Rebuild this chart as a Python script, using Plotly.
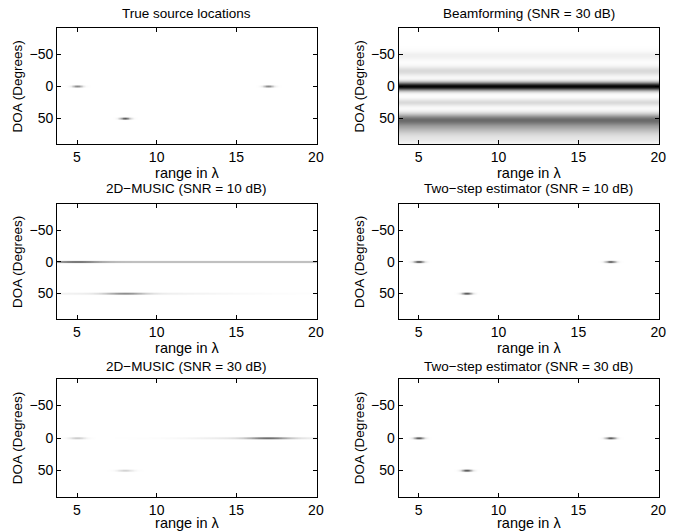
import numpy as np
import plotly.graph_objects as go

# ---------------- data ----------------
RANGE_GRID = np.round(np.arange(3.8, 20.0001, 0.1), 2)     # range in lambda (cell centres)
DOA_GRID = np.arange(-90.0, 90.0001, 0.5)                  # DOA in degrees

TITLES = ["True source locations", "Beamforming (SNR = 30 dB)",
          "2D\u2212MUSIC (SNR = 10 dB)", "Two\u2212step estimator (SNR = 10 dB)",
          "2D\u2212MUSIC (SNR = 30 dB)", "Two\u2212step estimator (SNR = 30 dB)"]
X_TICKS = [5, 10, 15, 20]
Y_TICKS = [-50, 0, 50]

# true sources
SOURCE_RANGE = [5, 8, 17]
SOURCE_DOA = [0, 50, 0]

# peaks: level, range width, doa width
TRUE_PEAKS_A = [1.0, 1.0, 1.0]
TRUE_PEAKS_SR = [0.22, 0.22, 0.22]
TRUE_PEAKS_SD = [0.8, 0.8, 0.8]

# beamforming bands (range independent)
BF_DOA = [-48, -24, 0, 25, 52, 66, 82]
BF_LEVEL = [0.06, 0.15, 1.0, 0.15, 0.55, 0.25, 0.08]
BF_WIDTH = [5, 5, 4.5, 4, 6.5, 7, 6]

MU10_R = [5, 5, 8, 8]
MU10_D = [0, 0, 50, 50]
MU10_A = [0.5, 0.45, 0.65, 0.12]
MU10_SR = [1.0, 500, 0.9, 5]
MU10_SD = [0.7, 0.7, 0.7, 0.7]

MU30_R = [5, 8, 17, 16.5]
MU30_D = [0, 50, 0, 0]
MU30_A = [0.35, 0.3, 0.8, 0.2]
MU30_SR = [0.35, 0.35, 0.9, 3.0]
MU30_SD = [0.7, 0.7, 0.7, 0.7]

TS10_A = [1.0, 1.0, 0.95]
TS30_A = [1.0, 1.0, 1.0]


def peaks_map(rc, dc, amp, sr, sd):
    R, D = np.meshgrid(RANGE_GRID, DOA_GRID)
    z = np.zeros_like(R)
    for r0, d0, a, s1, s2 in zip(rc, dc, amp, sr, sd):
        z += a * np.exp(-0.5 * ((R - r0) / s1) ** 2 - 0.5 * ((D - d0) / s2) ** 2)
    return np.clip(z, 0, 1)


def bands_map(dc, amp, sd):
    R, D = np.meshgrid(RANGE_GRID, DOA_GRID)
    z = np.zeros_like(R)
    for d0, a, s in zip(dc, amp, sd):
        z += a * np.exp(-0.5 * ((D - d0) / s) ** 2)
    return np.clip(z, 0, 1)


maps = [
    peaks_map(SOURCE_RANGE, SOURCE_DOA, TRUE_PEAKS_A, TRUE_PEAKS_SR, TRUE_PEAKS_SD),
    bands_map(BF_DOA, BF_LEVEL, BF_WIDTH),
    peaks_map(MU10_R, MU10_D, MU10_A, MU10_SR, MU10_SD),
    peaks_map(SOURCE_RANGE, SOURCE_DOA, TS10_A, TRUE_PEAKS_SR, TRUE_PEAKS_SD),
    peaks_map(MU30_R, MU30_D, MU30_A, MU30_SR, MU30_SD),
    peaks_map(SOURCE_RANGE, SOURCE_DOA, TS30_A, TRUE_PEAKS_SR, TRUE_PEAKS_SD),
]

# ---------------- layout ----------------
W, H = 678, 531
X_DOM = [(57.7 / W, 320.0 / W), (402.7 / W, 666.0 / W)]
ROW_PX = [(28.3, 144.3), (204.3, 319.3), (379.3, 496.7)]
TITLE_Y_PX = [13, 189, 366]
FONT = "Liberation Sans, Arial, Helvetica, sans-serif"
TICK_SIZE = 14
XLABEL_SIZE = 14.5
YLABEL_SIZE = 13.5
TITLE_SIZE = 13.5

fig = go.Figure()
layout = dict(
    width=W, height=H, margin=dict(l=0, r=0, t=0, b=0),
    paper_bgcolor="white", plot_bgcolor="white",
    font=dict(family=FONT, size=13, color="black"),
    showlegend=False,
)
annotations = []
for i, z in enumerate(maps):
    row, col = divmod(i, 2)
    n = i + 1
    xa = "x" if n == 1 else f"x{n}"
    ya = "y" if n == 1 else f"y{n}"
    fig.add_trace(go.Heatmap(
        x=RANGE_GRID, y=DOA_GRID, z=np.round(z, 3),
        colorscale=[[0, "white"], [1, "black"]], zmin=0, zmax=1,
        showscale=False, zsmooth="best", xaxis=xa, yaxis=ya,
        hoverinfo="skip"))
    top, bot = ROW_PX[row]
    ydom = (1 - bot / H, 1 - top / H)
    axis_common = dict(showline=True, linecolor="black", linewidth=1, mirror="ticks",
                       ticks="inside", ticklen=4, tickcolor="black", tickwidth=1,
                       showgrid=False, zeroline=False,
                       tickfont=dict(family=FONT, size=TICK_SIZE, color="black"))
    layout["xaxis" if n == 1 else f"xaxis{n}"] = dict(
        domain=X_DOM[col], anchor=ya, range=[3.75, 20.05], tickvals=X_TICKS,
        title=dict(text="range in \u03bb", font=dict(family=FONT, size=XLABEL_SIZE), standoff=2),
        **axis_common)
    layout["yaxis" if n == 1 else f"yaxis{n}"] = dict(
        domain=ydom, anchor=xa, range=[90.5, -90.5], tickvals=Y_TICKS,
        title=dict(text="DOA (Degrees)", font=dict(family=FONT, size=YLABEL_SIZE), standoff=3),
        **axis_common)
    annotations.append(dict(
        text=TITLES[i], xref="paper", yref="paper",
        x=sum(X_DOM[col]) / 2, y=1 - TITLE_Y_PX[row] / H,
        xanchor="center", yanchor="middle", showarrow=False,
        font=dict(family=FONT, size=TITLE_SIZE, color="black")))
layout["annotations"] = annotations
fig.update_layout(**layout)
fig.write_html("out.html", config={"displayModeBar": False},
               post_script="document.body.style.margin='0';document.body.style.overflow='hidden';")
